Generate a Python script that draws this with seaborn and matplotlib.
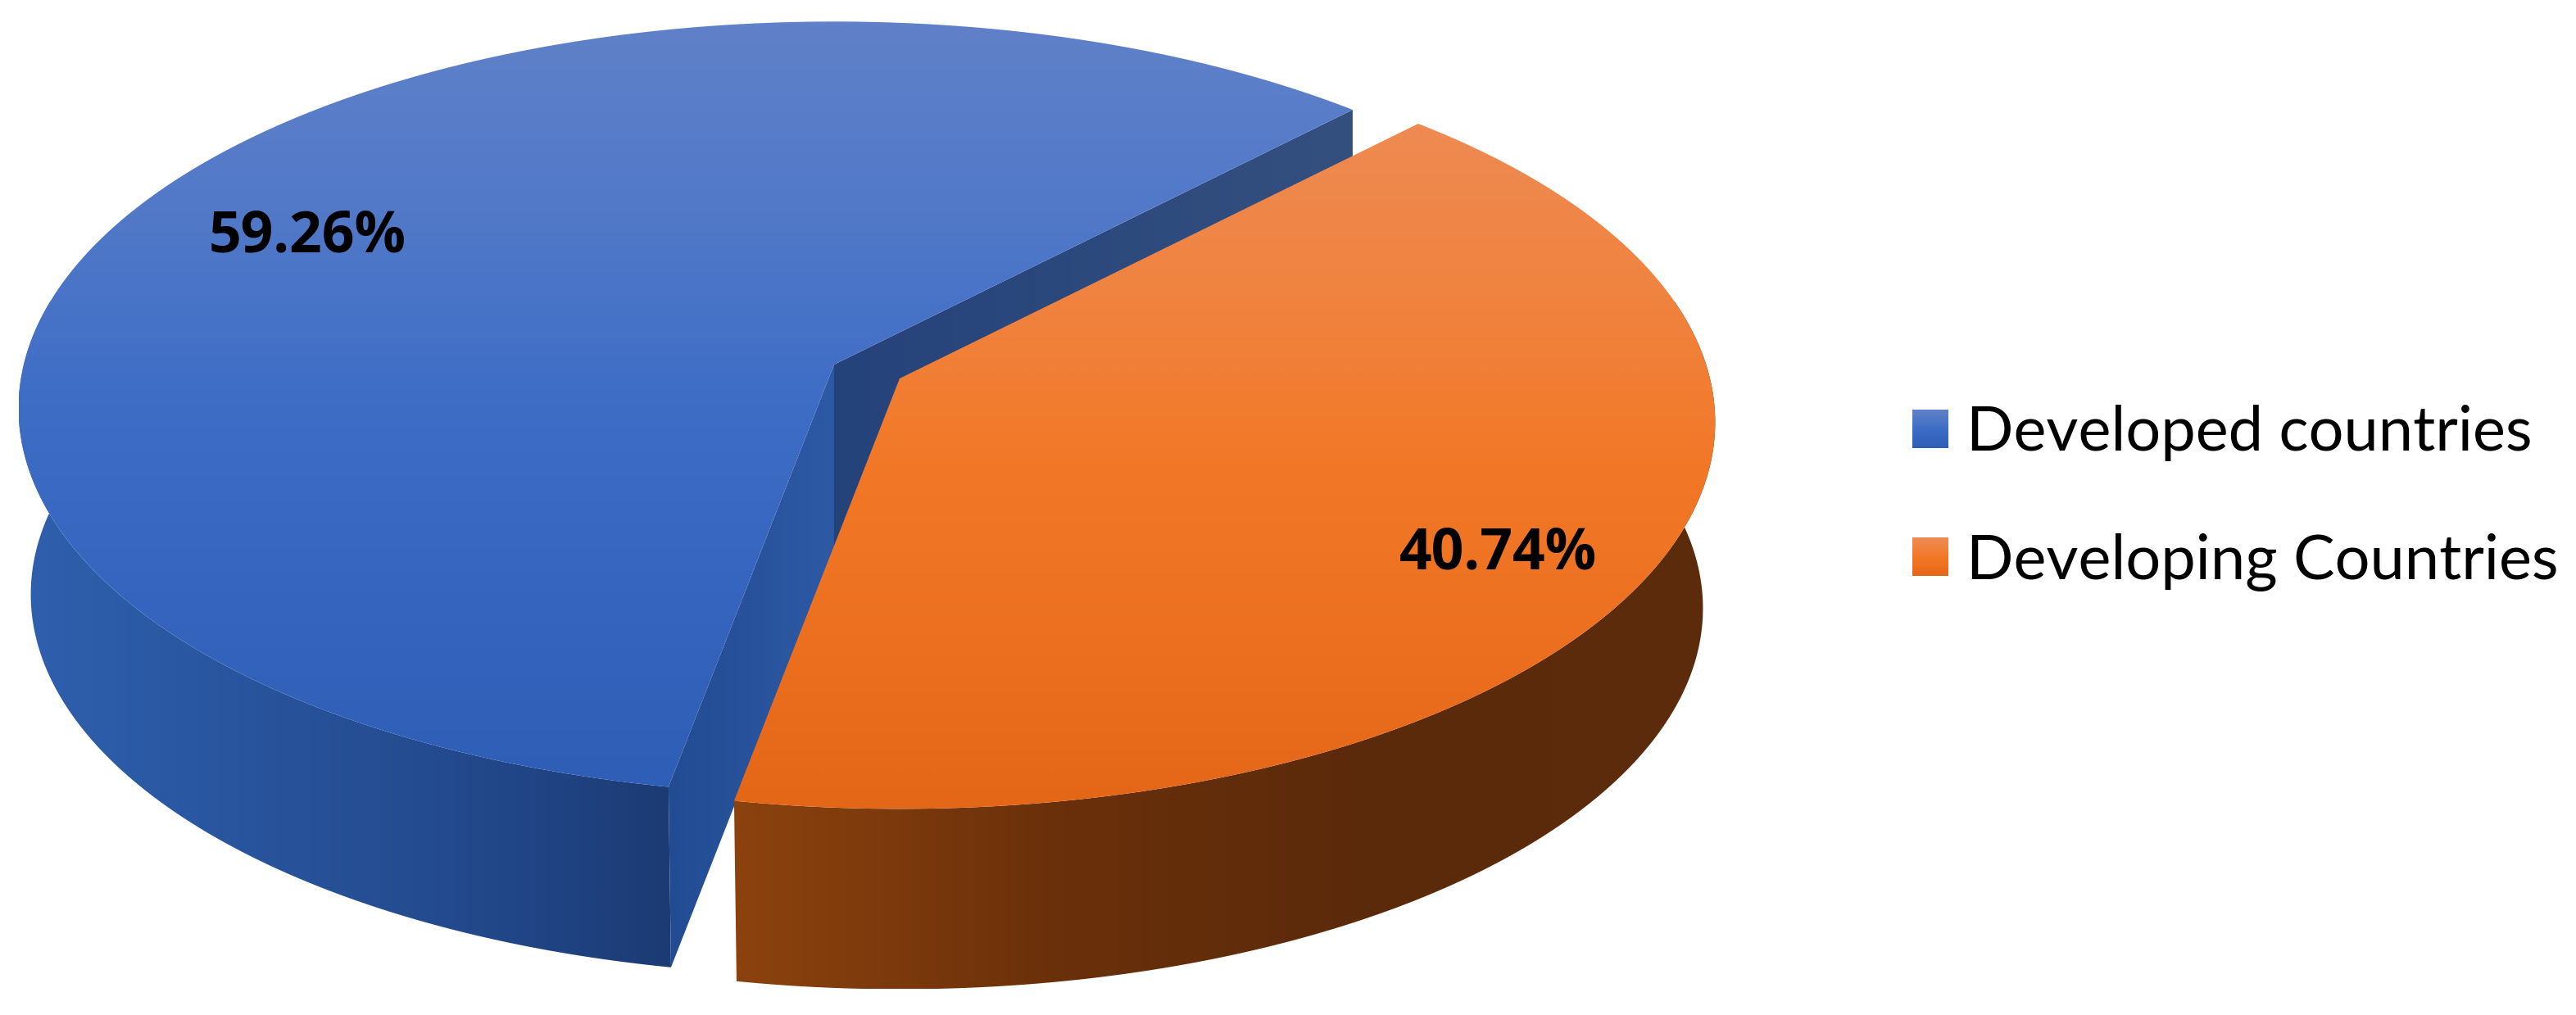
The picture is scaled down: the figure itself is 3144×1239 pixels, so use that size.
import numpy as np
import matplotlib
matplotlib.use("Agg")
import matplotlib.pyplot as plt
from matplotlib.patches import Polygon, Patch
import seaborn as sns

categories = ["Developed countries", "Developing Countries"]
shares = [59.26, 40.74]

W, H = 3144, 1239
sns.set_theme(style="white")
plt.rcParams['font.family'] = ['Lato', 'DejaVu Sans']

fig = plt.figure(figsize=(W / 100, H / 100), dpi=100, facecolor="white")
ax = fig.add_axes([0, 0, 1, 1])
ax.set_axis_off()

# projection of the tilted disc
R, RT, P = 989, 466, 0.113
DEPTH, BOT = 228, 0.985
START = 43.8
blue_c = (1018, 445)
orange_c = (1098, 462)


def rim(theta, c, scale=1.0, dy=0.0):
    th = np.radians(np.asarray(theta, float))
    X, Y = np.sin(th), -np.cos(th)
    f = 1 / (1 - P * Y)
    return np.column_stack([c[0] + scale * R * X * f, c[1] + dy + scale * RT * Y * f])


def shade(poly, colors, vertical=True, z=1):
    poly = np.asarray(poly)
    cmap = sns.blend_palette(colors, n_colors=256, as_cmap=True)
    g = np.linspace(0, 1, 256)
    g = g[:, None] if vertical else g[None, :]
    x0, x1, y0, y1 = poly[:, 0].min(), poly[:, 0].max(), poly[:, 1].min(), poly[:, 1].max()
    im = ax.imshow(g, cmap=cmap, extent=(x0, x1, y1, y0), origin="upper",
                   aspect="auto", interpolation="bilinear", zorder=z)
    p = Polygon(poly, closed=True, transform=ax.transData, facecolor="none", edgecolor="none")
    ax.add_patch(p)
    im.set_clip_path(p)


o_sweep = shares[1] / sum(shares) * 360
o_a, o_b = START, START + o_sweep
b_a, b_b = o_b, START + 360

BLUE_TOP = ["#6081C9", "#5179C8", "#3E6DC6", "#3565BE", "#2E5EB5"]
ORANGE_TOP = ["#EE8A52", "#F08340", "#F27827", "#EC7020", "#E46718"]

# blue slice
th = np.linspace(b_a, b_b, 400)
top = rim(th, blue_c)
side_t = th[th <= 280]
shade(np.vstack([rim(side_t, blue_c), rim(side_t, blue_c, BOT, DEPTH)[::-1]]),
      ["#2F60AE", "#29559E", "#234A8E", "#1C3B74"], vertical=False, z=1)
corner_back = rim([b_b], blue_c)[0]
corner_front = rim([b_a], blue_c)[0]
apex = np.array(blue_c, float)
d = np.array([0, DEPTH])
shade([apex, corner_back, corner_back + d, apex + d], ["#25437B", "#34507F"], vertical=False, z=2)
shade([apex, corner_front, rim([b_a], blue_c, BOT, DEPTH)[0], apex + d],
      ["#224C92", "#2E59A5"], vertical=False, z=3)
shade(np.vstack([apex, top]), BLUE_TOP, z=4)

# orange slice
th = np.linspace(o_a, o_b, 300)
top = rim(th, orange_c)
side_t = th[th >= 78]
shade(np.vstack([rim(side_t, orange_c), rim(side_t, orange_c, BOT, DEPTH)[::-1]]),
      ["#8C420E", "#6A300A", "#5A2A0A", "#5C2C0C"], vertical=False, z=5)
shade(np.vstack([np.array(orange_c, float), top]), ORANGE_TOP, z=6)

# data labels
ax.text(375, 281, f"{shares[0]:.2f}%", ha="center", va="center_baseline", color="black", zorder=8,
        family="Open Sans", fontweight="bold", fontsize=50)
ax.text(1828, 668, f"{shares[1]:.2f}%", ha="center", va="center_baseline", color="black", zorder=8,
        family="Open Sans", fontweight="bold", fontsize=50)

ax.set_xlim(0, W)
ax.set_ylim(H, 0)

# legend
FS = 54.5
em = FS * 100 / 72
handles = [Patch(facecolor="#3F6EC6", edgecolor="none", label=categories[0]),
           Patch(facecolor="#F07A2C", edgecolor="none", label=categories[1])]
leg = ax.legend(handles=handles, loc="upper left", bbox_to_anchor=(2334 / W, 1 - 494 / H),
                bbox_transform=fig.transFigure, frameon=False, borderpad=0, borderaxespad=0,
                fontsize=FS, handlelength=44 / em, handleheight=43 / em,
                handletextpad=22 / em, labelspacing=1.16, labelcolor="black")
fig.canvas.draw()
inv = ax.transData.inverted()
for patch, cols in zip(leg.get_patches(), [BLUE_TOP, ORANGE_TOP]):
    bb = patch.get_window_extent().transformed(inv)
    x0, x1 = sorted([bb.x0, bb.x1])
    y0, y1 = sorted([bb.y0, bb.y1])
    cmap = sns.blend_palette(cols, n_colors=256, as_cmap=True)
    ax.imshow(np.linspace(0, 1, 64)[:, None], cmap=cmap, extent=(x0, x1, y1, y0), origin="upper",
              aspect="auto", zorder=7, interpolation="bilinear")
ax.set_xlim(0, W)
ax.set_ylim(H, 0)

fig.savefig("out.png", dpi=100, facecolor="white")
